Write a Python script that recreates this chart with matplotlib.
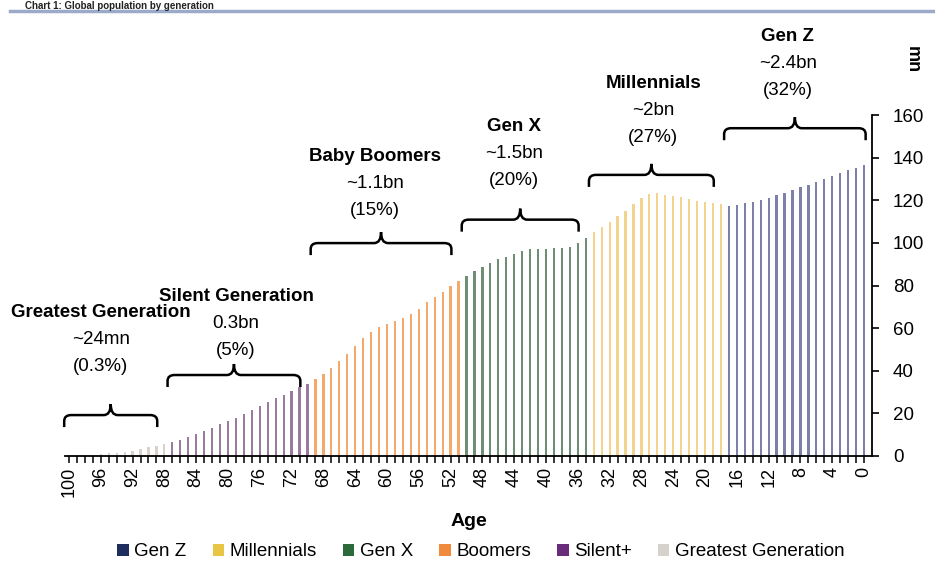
import matplotlib
matplotlib.use("Agg")
import matplotlib.pyplot as plt
from matplotlib.path import Path
from matplotlib.patches import PathPatch, Patch

plt.rcParams['font.family'] = ['Liberation Sans Narrow', 'Liberation Sans', 'DejaVu Sans']

# ---------------- data ----------------
gen_names = ["Gen Z", "Millennials", "Gen X", "Boomers", "Silent+", "Greatest Generation"]
gen_age_min = [0, 18, 35, 51, 70, 88]
gen_age_max = [17, 34, 50, 69, 87, 100]

# population (mn) per single year of age, listed from oldest to youngest within each generation
genz_pop = [117.2, 117.8, 118.6, 119.4, 120.1, 121.2, 122.3, 123.6, 125.0, 126.1,
            127.3, 128.6, 130.0, 131.2, 132.6, 134.0, 135.1, 136.6]
millennials_pop = [105.0, 107.3, 109.7, 112.5, 115.1, 118.3, 120.9, 123.0, 123.3, 122.6,
                   122.2, 121.4, 120.6, 119.8, 119.0, 118.6, 118.3]
genx_pop = [84.6, 86.7, 88.8, 90.6, 92.3, 93.5, 94.8, 96.1, 97.1, 97.3, 97.3, 97.4,
            97.6, 98.2, 100.0, 102.3]
boomers_pop = [36.1, 38.5, 41.1, 44.7, 47.9, 51.8, 55.2, 58.3, 60.4, 61.9, 63.2, 64.6,
               66.6, 69.0, 72.1, 74.5, 77.1, 79.6, 82.0]
silent_pop = [6.4, 7.7, 8.8, 10.3, 11.9, 13.0, 14.8, 16.4, 18.0, 19.8, 21.5, 23.3,
              25.2, 27.0, 28.8, 30.6, 32.2, 34.0]
greatest_pop = [0.2, 0.3, 0.5, 0.7, 0.9, 1.2, 1.6, 2.0, 2.5, 3.2, 4.0, 4.8, 5.6]
gen_pops = [genz_pop, millennials_pop, genx_pop, boomers_pop, silent_pop, greatest_pop]

ann_titles = ["Gen Z", "Millennials", "Gen X", "Baby Boomers", "Silent Generation", "Greatest Generation"]
ann_sizes = ["~2.4bn", "~2bn", "~1.5bn", "~1.1bn", "0.3bn", "~24mn"]
ann_shares = ["(32%)", "(27%)", "(20%)", "(15%)", "(5%)", "(0.3%)"]

age_ticks = list(range(100, -1, -4))
y_ticks = [0, 20, 40, 60, 80, 100, 120, 140, 160]

# ---------------- styles ----------------
bar_colors = ["#7d80a8", "#f3d48e", "#6e8f76", "#f5a86c", "#9b7b9d", "#d8d2cb"]
legend_colors = ["#1d2e5e", "#e9c545", "#2d6a3b", "#f08a3c", "#6a2b7b", "#d6d1ca"]
bracket_level = [153.8, 131.9, 110.9, 99.9, 38.0, 19.2]
label_gap_px = [38, 37, 39, 33, 25, 49]
label_dx_px = [-7, 2, -6, -6, 2, -10]

W, H = 935, 564
fig = plt.figure(figsize=(W / 100, H / 100), dpi=100)
ax = fig.add_axes([65 / W, 108 / H, (872 - 65) / W, 341 / H])


def pos(age):
    return 100 - age


for name, amin, amax, pops, col in zip(gen_names, gen_age_min, gen_age_max, gen_pops, bar_colors):
    ages = list(range(amax, amin - 1, -1))
    ax.bar([pos(a) for a in ages], pops, width=0.28, color=col, linewidth=0, zorder=2)

ax.set_xlim(-0.5, 101.0)
ax.set_ylim(0, 160)

# axes styling
for s in ["left", "top"]:
    ax.spines[s].set_visible(False)
ax.spines["bottom"].set_linewidth(1.3)
ax.spines["right"].set_linewidth(1.3)
ax.yaxis.tick_right()
ax.set_yticks(y_ticks)
ax.set_yticklabels([str(v) for v in y_ticks], fontsize=13.5)
ax.tick_params(axis="y", direction="out", length=5, width=1.2, pad=10)
ax.set_xticks([pos(a) for a in age_ticks])
ax.set_xticklabels([str(a) for a in age_ticks], rotation=90, fontsize=13)
ax.set_xticks([pos(a) for a in range(0, 101)], minor=True)
ax.tick_params(axis="x", which="both", direction="out", length=5, width=1.1, pad=3)
ax.set_xlabel("Age", fontsize=14, fontweight="bold", labelpad=11)

fig.text(912 / W, 1 - 60 / H, "mn", rotation=270, fontsize=13, fontweight="bold",
         ha="center", va="center")

# brackets
px_x = (101.5) / (872 - 65)  # data units per px (x)
px_y = 160 / 341             # data units per px (y)
rx, ry = 7 * px_x, 6 * px_y
drop, cusp = 12 * px_y, 11 * px_y

for i, (amin, amax) in enumerate(zip(gen_age_min, gen_age_max)):
    xl = pos(amax) - 0.6
    xr = pos(amin) - 0.9 if i else pos(amin) + 0.2
    xm = (xl + xr) / 2
    y = bracket_level[i]
    verts = [(xl, y - drop), (xl, y - ry), (xl, y), (xl + rx, y),
             (xm - rx, y), (xm, y), (xm, y + cusp),
             (xm, y), (xm + rx, y),
             (xr - rx, y), (xr, y), (xr, y - ry), (xr, y - drop)]
    codes = [Path.MOVETO, Path.LINETO, Path.CURVE3, Path.CURVE3,
             Path.LINETO, Path.CURVE3, Path.CURVE3,
             Path.CURVE3, Path.CURVE3,
             Path.LINETO, Path.CURVE3, Path.CURVE3, Path.LINETO]
    ax.add_patch(PathPatch(Path(verts, codes), facecolor="none", edgecolor="black",
                           linewidth=1.8, clip_on=False, zorder=3))
    dx = label_dx_px[i] * 0.72
    base = label_gap_px[i]
    for k, (txt, bold) in enumerate([(ann_shares[i], False), (ann_sizes[i], False),
                                      (ann_titles[i], True)]):
        ax.annotate(txt, xy=(xm, y), xycoords="data", textcoords="offset points",
                    xytext=(dx, (base + 27 * k) * 0.72), ha="center", va="center",
                    fontsize=13.5, fontweight="bold" if bold else "normal",
                    annotation_clip=False)

# legend
handles = [Patch(facecolor=c, edgecolor="none", label=n) for n, c in zip(gen_names, legend_colors)]
fig.legend(handles=handles, loc="center", bbox_to_anchor=(481 / W, 1 - 552 / H), ncol=6,
           frameon=False, fontsize=13.5, handlelength=0.6, handleheight=0.6,
           handletextpad=0.3, columnspacing=1.4)

# header (thin strip at top)
fig.text(25 / W, 1 - 1 / H, "Chart 1: Global population by generation", fontsize=7,
         fontweight="bold", va="top", ha="left", color="#222222")
fig.add_artist(plt.Line2D([10 / W, 1.0], [1 - 11 / H, 1 - 11 / H], color="#9aaac8", linewidth=2.5))

fig.savefig("out.png", dpi=100)
